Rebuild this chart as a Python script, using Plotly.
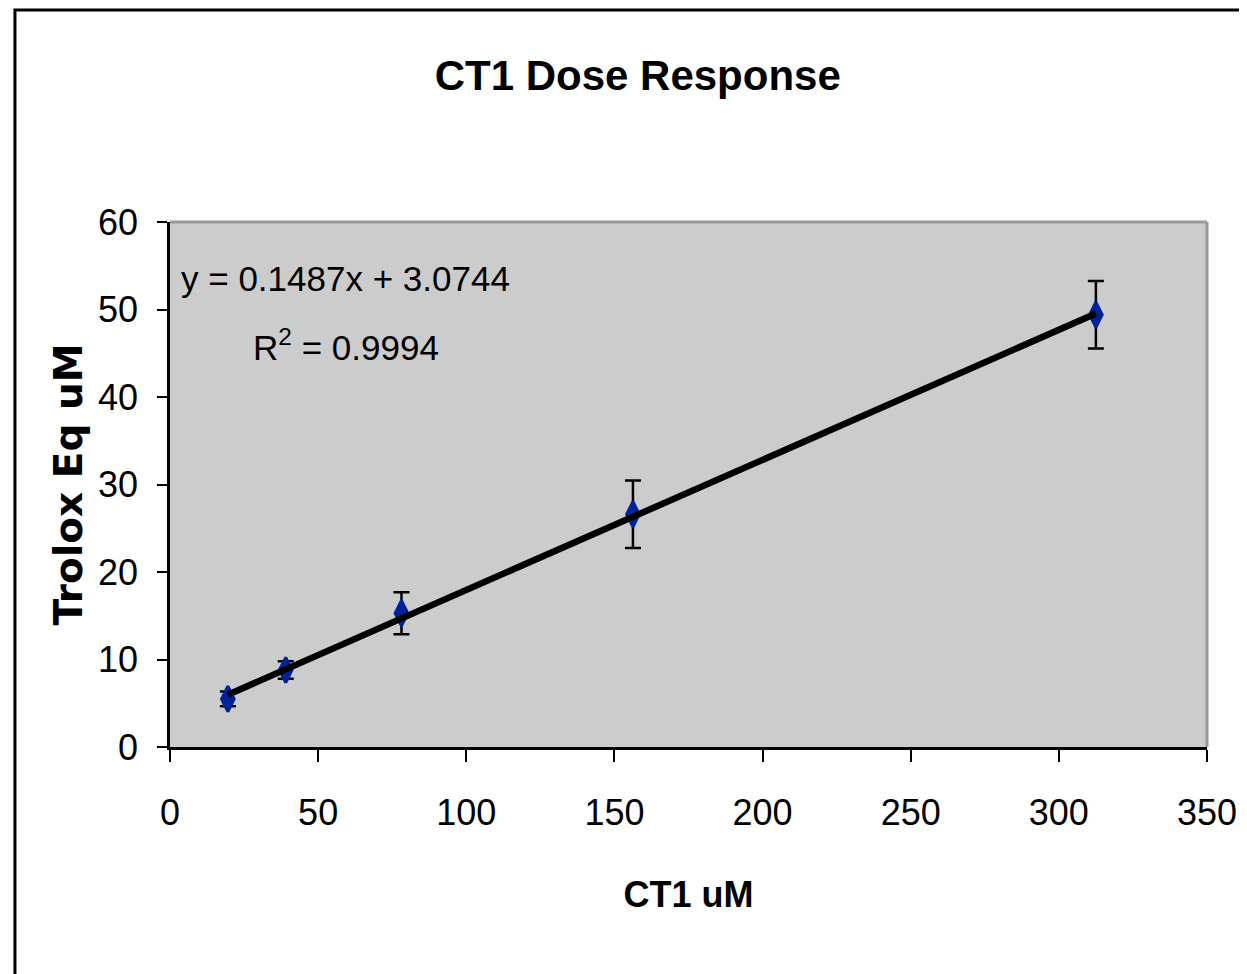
"""
CT1 dose response chart: Trolox equivalents vs CT1 concentration
"""

import plotly.graph_objects as go

# data
ct1_um = [19.53, 39.06, 78.125, 156.25, 312.5]
trolox_eq = [5.5, 8.8, 15.3, 26.6, 49.4]
trolox_err = [0.85, 1.0, 2.4, 3.85, 3.85]

# linear trendline as printed on the chart
slope = 0.1487
intercept = 3.0744
r_squared = 0.9994

x_ticks = [0, 50, 100, 150, 200, 250, 300, 350]
y_ticks = [0, 10, 20, 30, 40, 50, 60]

ARIAL = "Liberation Sans, Arial, sans-serif"

fit_x = [min(ct1_um), max(ct1_um)]
fit_y = [slope * v + intercept for v in fit_x]

fig = go.Figure()

# data points with error bars
fig.add_trace(go.Scatter(
    x=ct1_um,
    y=trolox_eq,
    mode="markers",
    marker=dict(symbol="diamond-tall", size=18, color="#002398",
                line=dict(color="#002398", width=3)),
    error_y=dict(type="data", array=trolox_err, visible=True,
                 color="black", thickness=2.5, width=8),
    showlegend=False,
))

# trendline on top
fig.add_trace(go.Scatter(
    x=fit_x,
    y=fit_y,
    mode="lines",
    line=dict(color="black", width=6.5),
    showlegend=False,
))

# page sits 8px in from the window edge, so margins are shifted by that
fig.update_layout(
    width=1247,
    height=974,
    margin=dict(l=162, r=48, t=214, b=235),
    paper_bgcolor="white",
    plot_bgcolor="#cccccc",
    font=dict(family=ARIAL, color="black"),
    title=dict(
        text="<b>CT1 Dose Response</b>",
        x=0.505, xanchor="center",
        y=0.931, yanchor="middle",
        font=dict(family=ARIAL, size=42, color="black"),
    ),
    showlegend=False,
)

fig.update_xaxes(
    range=[0, 350],
    tickvals=x_ticks,
    showgrid=False,
    zeroline=False,
    showline=True,
    linecolor="black",
    linewidth=3,
    ticks="outside",
    ticklen=12,
    tickwidth=2,
    tickcolor="black",
    tickfont=dict(family=ARIAL, size=36),
    ticklabelstandoff=20,
    title=dict(text="<b>CT1 uM</b>", font=dict(family=ARIAL, size=36), standoff=50),
)

fig.update_yaxes(
    range=[0, 60],
    tickvals=y_ticks,
    showgrid=False,
    zeroline=False,
    showline=True,
    linecolor="black",
    linewidth=2.5,
    ticks="outside",
    ticklen=10,
    tickwidth=2,
    tickcolor="black",
    tickfont=dict(family=ARIAL, size=36),
    ticklabelstandoff=12,
    title=dict(text="<b>Trolox Eq uM</b>",
               font=dict(family="DejaVu Sans", size=39), standoff=4),
)

# gray border on top and right of the plot area
fig.add_shape(type="line", xref="paper", yref="paper", x0=0, x1=1, y0=1, y1=1,
              line=dict(color="#999999", width=3))
fig.add_shape(type="line", xref="paper", yref="paper", x0=1, x1=1, y0=0, y1=1,
              line=dict(color="#999999", width=3))

# outer chart frame (runs off the right and bottom of the page)
fig.add_shape(type="rect", xref="paper", yref="paper",
              x0=-0.1495, x1=1.3, y0=-1.0, y1=1.404,
              line=dict(color="black", width=3), layer="below")

# trendline equation
fig.add_annotation(
    text="y = %.4fx + %.4f" % (slope, intercept),
    xref="paper", yref="paper", x=0.1697, y=0.893,
    xanchor="center", yanchor="middle", showarrow=False,
    font=dict(family=ARIAL, size=35, color="black"),
)
fig.add_annotation(
    text="R<sup>2</sup> = %.4f" % r_squared,
    xref="paper", yref="paper", x=0.1697, y=0.766,
    xanchor="center", yanchor="middle", showarrow=False,
    font=dict(family=ARIAL, size=35, color="black"),
)

fig.write_html("out.html")
